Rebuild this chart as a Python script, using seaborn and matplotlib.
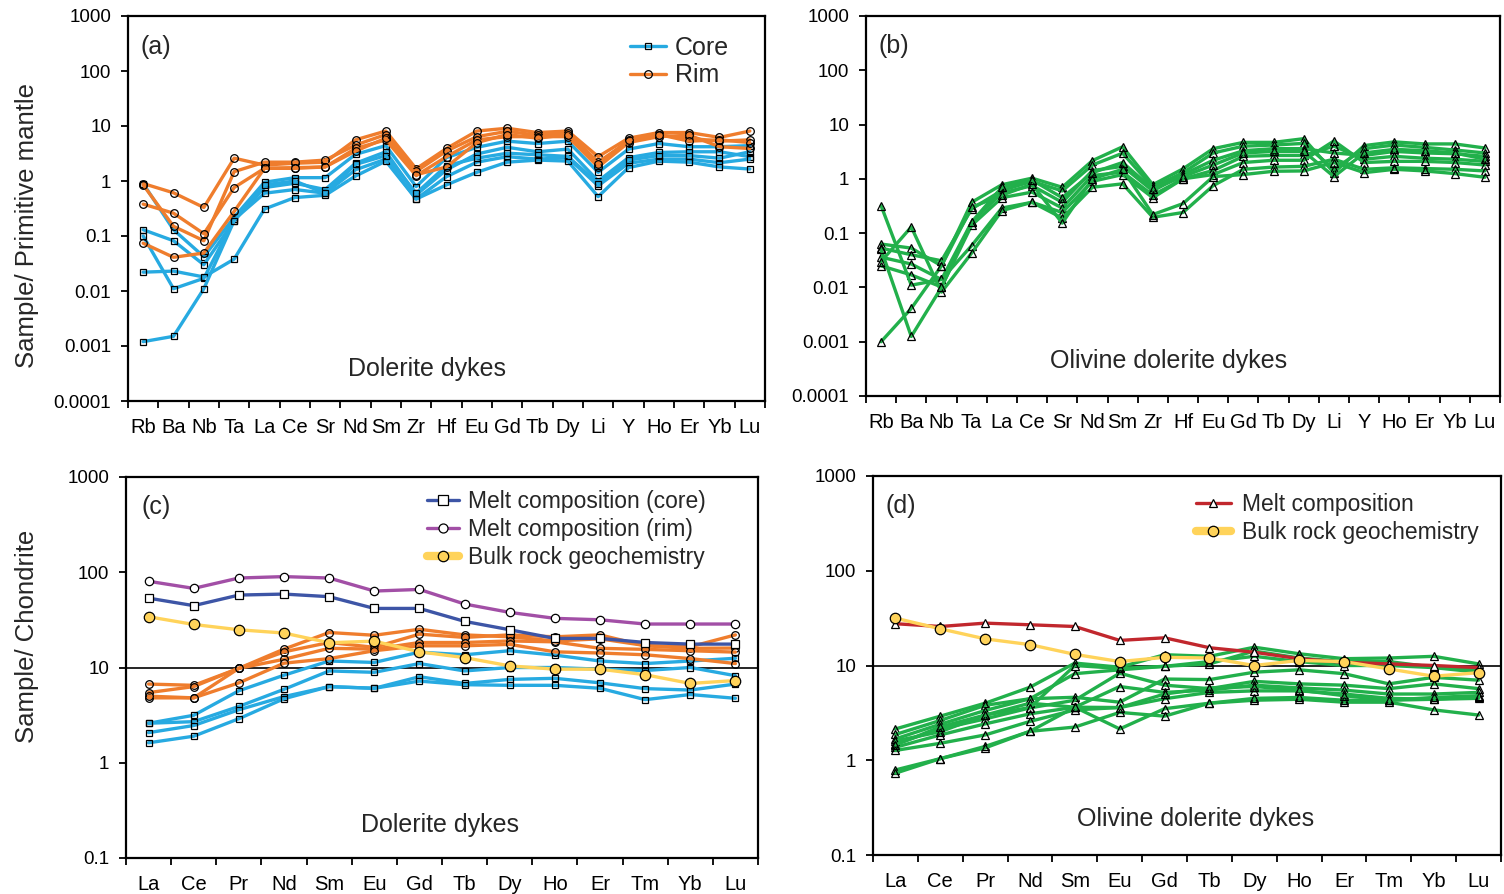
import numpy as np
import pandas as pd
import matplotlib
matplotlib.use("Agg")
import matplotlib.pyplot as plt
import seaborn as sns
from matplotlib.lines import Line2D
from matplotlib.ticker import FixedLocator, FuncFormatter, NullFormatter

sns.set_theme(style="white")
plt.rcParams['font.family'] = ['Liberation Sans', 'DejaVu Sans']

# ---------------- data ----------------
pm_elements = ["Rb", "Ba", "Nb", "Ta", "La", "Ce", "Sr", "Nd", "Sm", "Zr", "Hf",
               "Eu", "Gd", "Tb", "Dy", "Li", "Y", "Ho", "Er", "Yb", "Lu"]
ree_elements = ["La", "Ce", "Pr", "Nd", "Sm", "Eu", "Gd", "Tb", "Dy", "Ho", "Er", "Tm", "Yb", "Lu"]

# (a) dolerite dykes, primitive-mantle normalised
core_a1 = [0.9, 0.13, 0.042, 0.22, 0.95, 1.15, 1.15, 3.05, 4.4, 0.79, 2.66, 4.1, 5.3, 4.8, 5.3, 1.44, 3.8, 4.8, 4.2, 4.2, 4.4]
core_a2 = [0.13, 0.082, 0.03, 0.19, 0.76, 0.91, 0.7, 2.1, 3.4, 0.56, 1.6, 3.1, 4.1, 3.4, 3.8, 1.0, 2.66, 3.3, 3.4, 3.4, 2.77]
core_a3 = [0.10, 0.011, 0.017, 0.2, 0.6, 0.7, 0.6, 1.6, 2.5, 0.47, 1.2, 2.2, 2.77, 2.5, 2.66, 0.82, 2.1, 2.5, 2.5, 2.15, 2.5]
core_a4 = [0.022, 0.023, 0.018, 0.038, 0.31, 0.5, 0.55, 1.23, 2.3, 0.47, 0.85, 1.44, 2.2, 2.4, 2.3, 0.52, 1.75, 2.3, 2.2, 1.8, 1.65]
core_a5 = [0.0012, 0.0015, 0.011, 0.19, 0.85, 1.0, 0.6, 2.0, 2.9, 0.6, 1.9, 2.6, 3.2, 3.0, 2.8, 0.9, 2.4, 2.9, 2.9, 2.6, 3.4]
rim_a1 = [0.9, 0.61, 0.33, 2.6, 1.95, 2.1, 2.2, 5.6, 8.1, 1.67, 3.9, 8.1, 9.1, 7.6, 8.1, 2.77, 6.0, 7.6, 7.6, 6.2, 8.1]
rim_a2 = [0.85, 0.15, 0.082, 1.48, 2.2, 2.2, 2.4, 4.5, 7.0, 1.5, 3.5, 6.4, 8.0, 6.8, 7.6, 2.2, 5.3, 6.8, 6.0, 5.3, 5.6]
rim_a3 = [0.38, 0.26, 0.11, 0.76, 1.7, 1.75, 1.8, 3.9, 5.6, 1.25, 2.77, 5.6, 6.4, 6.4, 6.4, 1.8, 5.0, 6.4, 6.8, 4.2, 3.9]
rim_a4 = [0.074, 0.041, 0.049, 0.28, 1.7, 1.7, 1.8, 3.5, 6.0, 1.3, 1.8, 5.0, 7.0, 6.0, 7.0, 2.0, 5.5, 7.0, 5.3, 5.6, 5.0]

# (b) olivine dolerite dykes, primitive-mantle normalised
olv_b1 = [0.063, 0.053, 0.025, 0.37, 0.78, 1.03, 0.7, 2.17, 3.9, 0.78, 1.53, 3.6, 4.7, 4.7, 5.5, 1.3, 4.1, 4.8, 4.4, 4.4, 3.7]
olv_b2 = [0.053, 0.04, 0.031, 0.28, 0.61, 0.9, 0.6, 1.8, 2.97, 0.7, 1.3, 3.0, 4.0, 4.2, 4.5, 1.5, 3.6, 4.2, 3.8, 3.4, 3.0]
olv_b3 = [0.036, 0.027, 0.014, 0.16, 0.55, 0.75, 0.37, 1.42, 1.7, 0.6, 1.2, 2.2, 3.3, 3.6, 3.6, 3.0, 2.7, 3.2, 3.0, 2.9, 2.6]
olv_b4 = [0.025, 0.017, 0.0102, 0.14, 0.45, 0.57, 0.29, 1.15, 1.33, 0.5, 1.0, 1.43, 2.6, 2.7, 2.7, 4.0, 2.3, 2.6, 2.4, 2.3, 2.1]
olv_b5 = [0.32, 0.011, 0.014, 0.059, 0.29, 0.37, 0.24, 0.9, 1.2, 0.45, 1.0, 1.2, 2.0, 2.2, 2.2, 5.0, 2.0, 2.1, 2.1, 2.0, 1.8]
olv_b6 = [0.03, 0.13, 0.0082, 0.043, 0.26, 0.37, 0.19, 0.7, 0.81, 0.196, 0.24, 0.75, 1.5, 1.65, 1.7, 2.3, 1.5, 1.6, 1.55, 1.5, 1.4]
olv_b7 = [0.001, 0.0041, 0.025, 0.3, 0.5, 0.8, 0.153, 1.0, 1.5, 0.22, 0.35, 1.1, 1.2, 1.38, 1.4, 2.0, 1.3, 1.5, 1.4, 1.25, 1.07]
olv_b8 = [0.05, 0.00125, 0.01, 0.16, 0.7, 0.95, 0.45, 1.3, 2.0, 0.65, 1.1, 1.8, 3.0, 3.2, 3.2, 1.1, 3.0, 3.5, 3.3, 3.0, 2.3]

# (c) dolerite dykes, chondrite normalised
melt_core_c = [53.5, 44.6, 57.6, 59, 55.4, 41.7, 41.7, 30.5, 24.9, 20.2, 20.2, 18.3, 17.6, 17.6]
melt_rim_c = [80.4, 67.7, 87, 90, 87, 63.5, 66, 46.4, 37.9, 32.8, 31.7, 28.6, 28.6, 28.6]
bulk_c = [34.1, 28.3, 24.9, 23, 18.2, 18.9, 14.6, 12.7, 10.4, 9.6, 9.6, 8.4, 6.8, 7.3]
core_c1 = [2.6, 3.15, 5.7, 8.3, 11.7, 11.3, 14.5, 13.6, 15, 13.5, 11.7, 11, 11.7, 12.5]
core_c2 = [2.6, 2.7, 3.9, 5.9, 9.2, 8.9, 11, 9.2, 10, 10, 9.6, 9.3, 10, 8.2]
core_c3 = [2.07, 2.46, 3.6, 4.95, 6.3, 6.05, 8.0, 6.8, 7.5, 7.7, 6.9, 6.0, 5.8, 6.7]
core_c4 = [1.62, 1.9, 2.9, 4.7, 6.3, 6.05, 7.2, 6.6, 6.5, 6.5, 6.05, 4.6, 5.2, 4.75]
rim_c1 = [6.7, 6.5, 9.8, 15.6, 23.3, 21.8, 25.2, 22, 21, 19, 20, 17, 16.5, 22]
rim_c2 = [5.45, 6.3, 9.8, 14.6, 18.3, 16.3, 22.4, 20.7, 22, 21, 22, 16.9, 15.9, 16]
rim_c3 = [4.8, 4.8, 9.8, 12.2, 15.9, 15.6, 18.3, 18.3, 19, 18.6, 15.9, 15.5, 15, 14.5]
rim_c4 = [5.0, 4.8, 6.9, 11.1, 12.4, 15.0, 16.9, 16.9, 17.5, 14.6, 14.2, 13.6, 12.4, 11]

# (d) olivine dolerite dykes, chondrite normalised
melt_d = [27.6, 25.8, 28, 26.9, 25.8, 18.4, 19.6, 15.4, 13.8, 11.8, 10.8, 10.4, 10, 9.5]
bulk_d = [31.6, 24.4, 19.1, 16.6, 13.1, 11, 12.2, 12.0, 10, 11.3, 11, 9.2, 7.7, 8.4]
olv_d1 = [2.14, 2.92, 4.0, 5.9, 10.6, 9.6, 13, 12.5, 15.6, 13.3, 11.8, 12, 12.5, 10.4]
olv_d2 = [1.87, 2.63, 3.8, 4.46, 8.2, 9.0, 9.8, 10.4, 14.2, 12, 11, 11, 9.6, 9.0]
olv_d3 = [1.68, 2.4, 3.35, 4.46, 4.62, 4.1, 7.2, 7.1, 8.5, 9.0, 8.2, 6.4, 7.5, 7.0]
olv_d4 = [1.48, 2.14, 2.73, 3.57, 4.3, 8.3, 6.2, 5.7, 6.8, 6.4, 6.2, 5.7, 6.4, 5.7]
olv_d5 = [1.37, 1.85, 2.42, 3.09, 3.63, 6.0, 5.2, 5.5, 6.2, 5.8, 5.5, 5.0, 5.0, 5.2]
olv_d6 = [1.27, 1.51, 1.85, 2.57, 3.4, 3.6, 4.46, 5.2, 5.4, 5.4, 5.0, 4.5, 4.4, 4.5]
olv_d7 = [1.6, 2.0, 3.0, 4.0, 3.63, 2.14, 3.5, 4.0, 4.3, 4.4, 4.1, 4.1, 3.4, 3.0]
olv_d8 = [0.79, 1.04, 1.4, 2.02, 2.24, 3.2, 2.92, 4.0, 4.5, 4.6, 4.3, 4.3, 4.4, 4.7]
olv_d9 = [0.73, 1.04, 1.35, 2.02, 3.63, 3.6, 5.0, 5.8, 6.0, 5.5, 4.8, 4.3, 4.6, 4.8]
olv_d10 = [1.45, 2.25, 3.0, 3.6, 10.0, 9.3, 9.8, 11, 12.5, 11, 10, 10, 9.5, 8.5]

# ---------------- styles ----------------
C_CORE = "#27aae1"
C_RIM = "#ef7d2d"
C_GREEN = "#22b04b"
C_MCORE = "#3d55a6"
C_MRIM = "#a24fa6"
C_BULK = "#ffd35a"
C_MELT = "#c1272d"

W, H = 1504, 894
fig = plt.figure(figsize=(W / 100, H / 100), dpi=100)

FS_TXT = 18
FS_LAB = 18.5


def make_ax(l, r, t, b):
    return fig.add_axes([l / W, 1 - b / H, (r - l) / W, (b - t) / H])


def draw(ax, names, vals, color, marker, mfc="none", lw=2.4, ms=5.5, z=2):
    df = pd.DataFrame({"x": np.arange(len(names)), "y": vals})
    sns.lineplot(data=df, x="x", y="y", ax=ax, color=color, lw=lw, marker=marker,
                 markersize=ms, markerfacecolor=mfc, markeredgecolor="black",
                 markeredgewidth=0.9, sort=False, estimator=None, zorder=z)


def style_ax(ax, names, ylo, yhi, xpad):
    ax.set_yscale("log")
    ax.set_ylim(ylo, yhi)
    ax.set_xlim(-0.5, len(names) - 0.5)
    decades = [10.0 ** k for k in range(int(round(np.log10(ylo))), int(round(np.log10(yhi))) + 1)]
    ax.yaxis.set_major_locator(FixedLocator(decades))
    ax.yaxis.set_minor_locator(FixedLocator([]))
    ax.yaxis.set_major_formatter(FuncFormatter(lambda v, p: "{:g}".format(v)))
    ax.set_xticks(np.arange(len(names)))
    ax.set_xticklabels(names)
    ax.xaxis.set_minor_locator(FixedLocator(np.arange(len(names) + 1) - 0.5))
    ax.xaxis.set_minor_formatter(NullFormatter())
    ax.tick_params(axis="x", which="major", length=0, pad=xpad, labelsize=14.5, colors="black")
    ax.tick_params(axis="x", which="minor", length=5, width=1.3, direction="out", bottom=True, colors="black")
    ax.tick_params(axis="y", which="major", length=5, width=1.3, direction="out", left=True,
                   labelsize=13.5, pad=7, colors="black")
    for s in ax.spines.values():
        s.set_color("black")
        s.set_linewidth(1.6)
    ax.set_xlabel("")
    ax.set_ylabel("")
    ax.grid(False)


# ---------- (a) ----------
axa = make_ax(128, 765, 16, 401)
for v in [core_a1, core_a2, core_a3, core_a4, core_a5]:
    draw(axa, pm_elements, v, C_CORE, "s", ms=5)
for v in [rim_a1, rim_a2, rim_a3, rim_a4]:
    draw(axa, pm_elements, v, C_RIM, "o", ms=5.5)
style_ax(axa, pm_elements, 1e-4, 1e3, xpad=12)
axa.text(0.02, 0.92, "(a)", transform=axa.transAxes, fontsize=FS_TXT, va="center", ha="left")
axa.text(0.47, 0.083, "Dolerite dykes", transform=axa.transAxes, fontsize=FS_TXT, va="center", ha="center")
h_a = [Line2D([], [], color=C_CORE, lw=2.4, marker="s", ms=5, mfc="none", mec="black", mew=0.9),
       Line2D([], [], color=C_RIM, lw=2.4, marker="o", ms=5.5, mfc="none", mec="black", mew=0.9)]
axa.legend(h_a, ["Core", "Rim"], loc="upper left", bbox_to_anchor=(0.772, 0.975), frameon=False,
           fontsize=18, handlelength=1.45, handletextpad=0.35, labelspacing=0.15, borderaxespad=0)
axa.set_ylabel("Sample/ Primitive mantle", fontsize=FS_LAB)
axa.yaxis.set_label_coords((39 - 128) / 637, (401 - 225) / 385)

# ---------- (b) ----------
axb = make_ax(866, 1500, 16, 396)
for v in [olv_b1, olv_b2, olv_b3, olv_b4, olv_b5, olv_b6, olv_b7, olv_b8]:
    draw(axb, pm_elements, v, C_GREEN, "^", ms=5.5)
style_ax(axb, pm_elements, 1e-4, 1e3, xpad=12)
axb.text(0.02, 0.92, "(b)", transform=axb.transAxes, fontsize=FS_TXT, va="center", ha="left")
axb.text(0.478, 0.092, "Olivine dolerite dykes", transform=axb.transAxes, fontsize=FS_TXT, va="center", ha="center")

# ---------- (c) ----------
axc = make_ax(126, 758, 477, 858)
axc.axhline(10, color="black", lw=1.2, zorder=1)
for v in [core_c1, core_c2, core_c3, core_c4]:
    draw(axc, ree_elements, v, C_CORE, "s", ms=5)
for v in [rim_c1, rim_c2, rim_c3, rim_c4]:
    draw(axc, ree_elements, v, C_RIM, "o", ms=5.5)
draw(axc, ree_elements, melt_core_c, C_MCORE, "s", mfc="white", ms=5.5, z=3)
draw(axc, ree_elements, melt_rim_c, C_MRIM, "o", mfc="white", ms=6, z=3)
draw(axc, ree_elements, bulk_c, C_BULK, "o", mfc=C_BULK, ms=7.5, z=3)
style_ax(axc, ree_elements, 0.1, 1000, xpad=12)
axc.text(0.025, 0.92, "(c)", transform=axc.transAxes, fontsize=FS_TXT, va="center", ha="left")
axc.text(0.497, 0.087, "Dolerite dykes", transform=axc.transAxes, fontsize=FS_TXT, va="center", ha="center")
h_c = [Line2D([], [], color=C_MCORE, lw=2.4, marker="s", ms=6.5, mfc="white", mec="black", mew=0.9),
       Line2D([], [], color=C_MRIM, lw=2.4, marker="o", ms=6.5, mfc="white", mec="black", mew=0.9),
       Line2D([], [], color=C_BULK, lw=6, marker="o", ms=7.5, mfc=C_BULK, mec="black", mew=0.9)]
axc.legend(h_c, ["Melt composition (core)", "Melt composition (rim)", "Bulk rock geochemistry"],
           loc="upper left", bbox_to_anchor=(0.462, 0.99), frameon=False, fontsize=16.5,
           handlelength=1.4, handletextpad=0.4, labelspacing=0.22, borderaxespad=0)
axc.set_ylabel("Sample/ Chondrite", fontsize=FS_LAB)
axc.yaxis.set_label_coords((39 - 126) / 632, (858 - 636) / 381)

# ---------- (d) ----------
axd = make_ax(873, 1501, 476, 855)
axd.axhline(10, color="black", lw=1.2, zorder=1)
for v in [olv_d1, olv_d2, olv_d3, olv_d4, olv_d5, olv_d6, olv_d7, olv_d8, olv_d9, olv_d10]:
    draw(axd, ree_elements, v, C_GREEN, "^", ms=5.5)
draw(axd, ree_elements, melt_d, C_MELT, "^", mfc="white", ms=5.5, z=3)
draw(axd, ree_elements, bulk_d, C_BULK, "o", mfc=C_BULK, ms=7.5, z=3)
style_ax(axd, ree_elements, 0.1, 1000, xpad=12)
axd.text(0.02, 0.92, "(d)", transform=axd.transAxes, fontsize=FS_TXT, va="center", ha="left")
axd.text(0.514, 0.095, "Olivine dolerite dykes", transform=axd.transAxes, fontsize=FS_TXT, va="center", ha="center")
h_d = [Line2D([], [], color=C_MELT, lw=2.4, marker="^", ms=6, mfc="white", mec="black", mew=0.9),
       Line2D([], [], color=C_BULK, lw=6, marker="o", ms=7.5, mfc=C_BULK, mec="black", mew=0.9)]
axd.legend(h_d, ["Melt composition", "Bulk rock geochemistry"],
           loc="upper left", bbox_to_anchor=(0.5, 0.98), frameon=False, fontsize=16.5,
           handlelength=1.5, handletextpad=0.5, labelspacing=0.22, borderaxespad=0)

fig.savefig("out.png", dpi=100, facecolor="white")
